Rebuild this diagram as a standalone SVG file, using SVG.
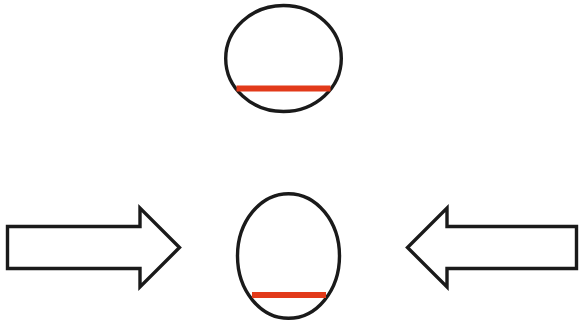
<svg xmlns="http://www.w3.org/2000/svg" width="579" height="326" viewBox="0 0 579 326">
  <style>
    .outline { fill: #ffffff; stroke: #1a1a1a; stroke-width: 3.4; stroke-linejoin: miter; }
    .level { stroke: #e23a1a; stroke-width: 6; }
  </style>
  <rect width="579" height="326" fill="#ffffff"/>
  <g id="shape-top">
    <ellipse class="outline" cx="283.5" cy="58.5" rx="57.8" ry="53"/>
    <line class="level" x1="236.5" y1="88.5" x2="330.5" y2="88.5"/>
  </g>
  <g id="shape-bottom">
    <ellipse class="outline" cx="288.5" cy="256" rx="51" ry="62.3"/>
    <line class="level" x1="252" y1="295" x2="326" y2="295"/>
  </g>
  <g id="arrow-left">
    <polygon class="outline" points="7.5,226.5 140,226.5 140,208 179.5,247.5 140,287 140,268.5 7.5,268.5"/>
  </g>
  <g id="arrow-right">
    <polygon class="outline" points="576.5,226.5 447,226.5 447,208 407.5,247.5 447,287 447,268.5 576.5,268.5"/>
  </g>
</svg>
